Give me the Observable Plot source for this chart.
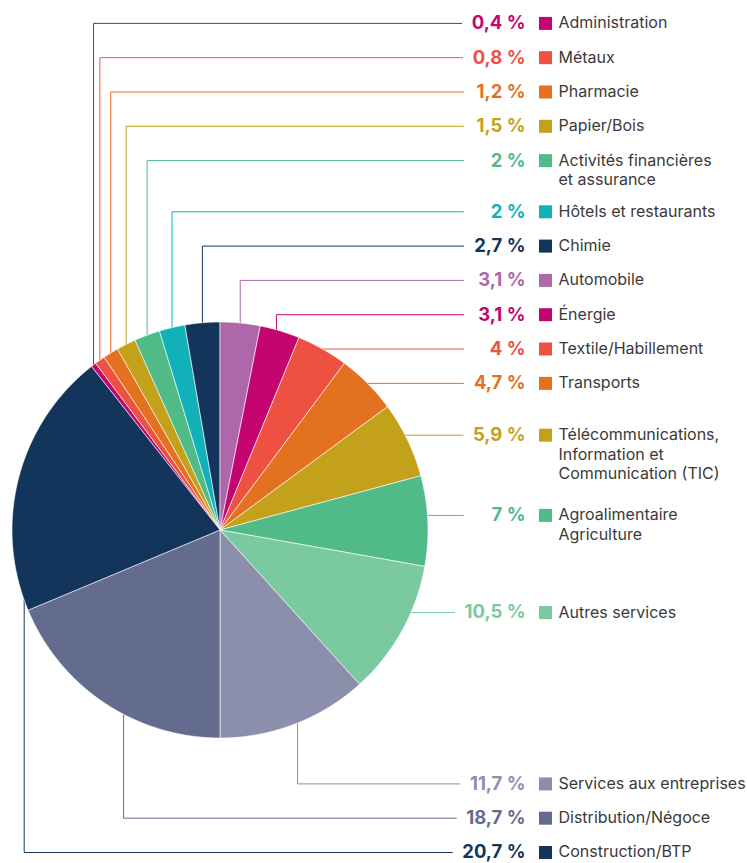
<!DOCTYPE html>
<html><head><meta charset="utf-8">
<script src="https://cdn.jsdelivr.net/npm/d3@7"></script>
<script src="https://cdn.jsdelivr.net/npm/@observablehq/plot@0.6"></script>
<style>html,body{margin:0;padding:0;background:#fff}</style>
</head><body><div id="chart"></div>
<script>
// ---- data (legend order, top to bottom) ----
const sectors = ["Administration", "Métaux", "Pharmacie", "Papier/Bois",
  "Activités financières\net assurance", "Hôtels et restaurants", "Chimie",
  "Automobile", "Énergie", "Textile/Habillement", "Transports",
  "Télécommunications,\nInformation et\nCommunication (TIC)",
  "Agroalimentaire\nAgriculture", "Autres services", "Services aux entreprises",
  "Distribution/Négoce", "Construction/BTP"];
const values = [0.4, 0.8, 1.2, 1.5, 2, 2, 2.7, 3.1, 3.1, 4, 4.7, 5.9, 7, 10.5, 11.7, 18.7, 20.7];
const colors = ["#C4056F", "#EE5042", "#E3711F", "#C4A11B", "#50BB87", "#12B1B9", "#13355B",
  "#AE67A8", "#C4056F", "#EE5042", "#E3711F", "#C4A11B", "#50BB87", "#7BC99F", "#8C8FAC",
  "#636C8E", "#13355B"];
const firstAtTop = "Automobile";

// ---- layout ----
const W = 747, H = 863;
const cx = 219.5, cy = 529.5, R = 208;
const anchorFrac = [0.5, 0.5, 0.5, 0.5, 0.5, 0.5, 0.5, 0.5, 0.41, 0.5, 0.5, 0.435, 0.44, 0.352, 0.48, 0.41, 0.04];
const pctRight = 525, swatchX = 545, labelX = 558, lineEndMax = 463, bottomRowY = 852;
const rowStep = 34.3, lineStep = 16.9;
const font = "Inter", pctSize = 18.5, labelSize = 16, labelLH = 1.22;

const total = d3.sum(values);
const topIndex = sectors.indexOf(firstAtTop);
const start = -2 * Math.PI * d3.sum(values.slice(0, topIndex)) / total;
const arcs = d3.pie().sort(null).startAngle(start).endAngle(start + 2 * Math.PI)(values);
const px = a => cx + R * Math.sin(a), py = a => cy - R * Math.cos(a);

const ctx = document.createElement("canvas").getContext("2d");
ctx.font = `700 ${pctSize}px ${font}`;

const rows = sectors.map((name, i) => {
  const a = arcs[i].startAngle + anchorFrac[i] * (arcs[i].endAngle - arcs[i].startAngle);
  const pct = String(values[i]).replace(".", ",") + "\u00a0%";
  return {name, value: values[i], color: colors[i], pct, lines: name.split("\n").length,
    ax: px(a), ay: py(a), pctWidth: ctx.measureText(pct).width};
});
// label rows: leaders dropping below the pie stack from the bottom; others stack upward
const dropping = r => r.ay > cy && r.ax < cx + 100;
const step = r => rowStep + lineStep * (r.lines - 1);
for (let i = rows.length - 1, next = null; i >= 0; i--) {
  const r = rows[i];
  if (dropping(r)) { r.y = next === null ? bottomRowY : next - step(r); next = r.y; }
}
{
  let next = null;
  for (let i = rows.length - 1; i >= 0; i--) {
    const r = rows[i];
    if (dropping(r)) continue;
    r.y = next === null ? r.ay : Math.min(r.ay, next - step(r));
    next = r.y;
  }
}
rows.forEach(r => { r.lineEnd = Math.min(lineEndMax, pctRight - r.pctWidth - 10); r.px = pctRight; r.sx = swatchX; r.lx = labelX; });

const slicePts = arcs.flatMap((d, i) => {
  const n = Math.max(2, Math.ceil((d.endAngle - d.startAngle) / (Math.PI / 360)));
  const pts = [{x: cx, y: cy}];
  for (let k = 0; k <= n; k++) {
    const a = d.startAngle + (d.endAngle - d.startAngle) * k / n;
    pts.push({x: px(a), y: py(a)});
  }
  pts.push({x: cx, y: cy});
  return pts.map(p => ({...p, name: sectors[i], color: colors[i]}));
});
const leaderPts = rows.flatMap(r => [
  {x: r.ax, y: r.ay}, {x: r.ax, y: r.y}, {x: r.lineEnd, y: r.y}
].map(p => ({...p, name: r.name, color: r.color})));

const chart = Plot.plot({
  width: W, height: H, margin: 0,
  x: {domain: [0, W], range: [0, W], axis: null},
  y: {domain: [0, H], range: [0, H], axis: null},
  color: {type: "identity"},
  style: {fontFamily: font, background: "#fff"},
  marks: [
    Plot.line(leaderPts, {x: "x", y: "y", z: "name", stroke: "color", strokeWidth: 1, curve: "linear"}),
    Plot.line(slicePts, {x: "x", y: "y", z: "name", fill: "color", stroke: "#fff", strokeWidth: 0.6, strokeLinejoin: "round", curve: "linear"}),
    Plot.text(rows, {x: "px", y: "y", text: "pct", fill: "color", textAnchor: "end", fontSize: pctSize, fontWeight: 700}),
    Plot.dot(rows, {x: "sx", y: "y", symbol: "square", r: 13 / Math.sqrt(Math.PI), fill: "color", stroke: null}),
    Plot.text(rows, {x: "lx", y: "y", text: "name", fill: "#3a3a3a", textAnchor: "start", lineAnchor: "top",
      dy: (0.31 - 0.71 * labelLH) * labelSize, lineHeight: labelLH, fontSize: labelSize})
  ]
});
document.getElementById("chart").append(chart);
</script></body></html>
